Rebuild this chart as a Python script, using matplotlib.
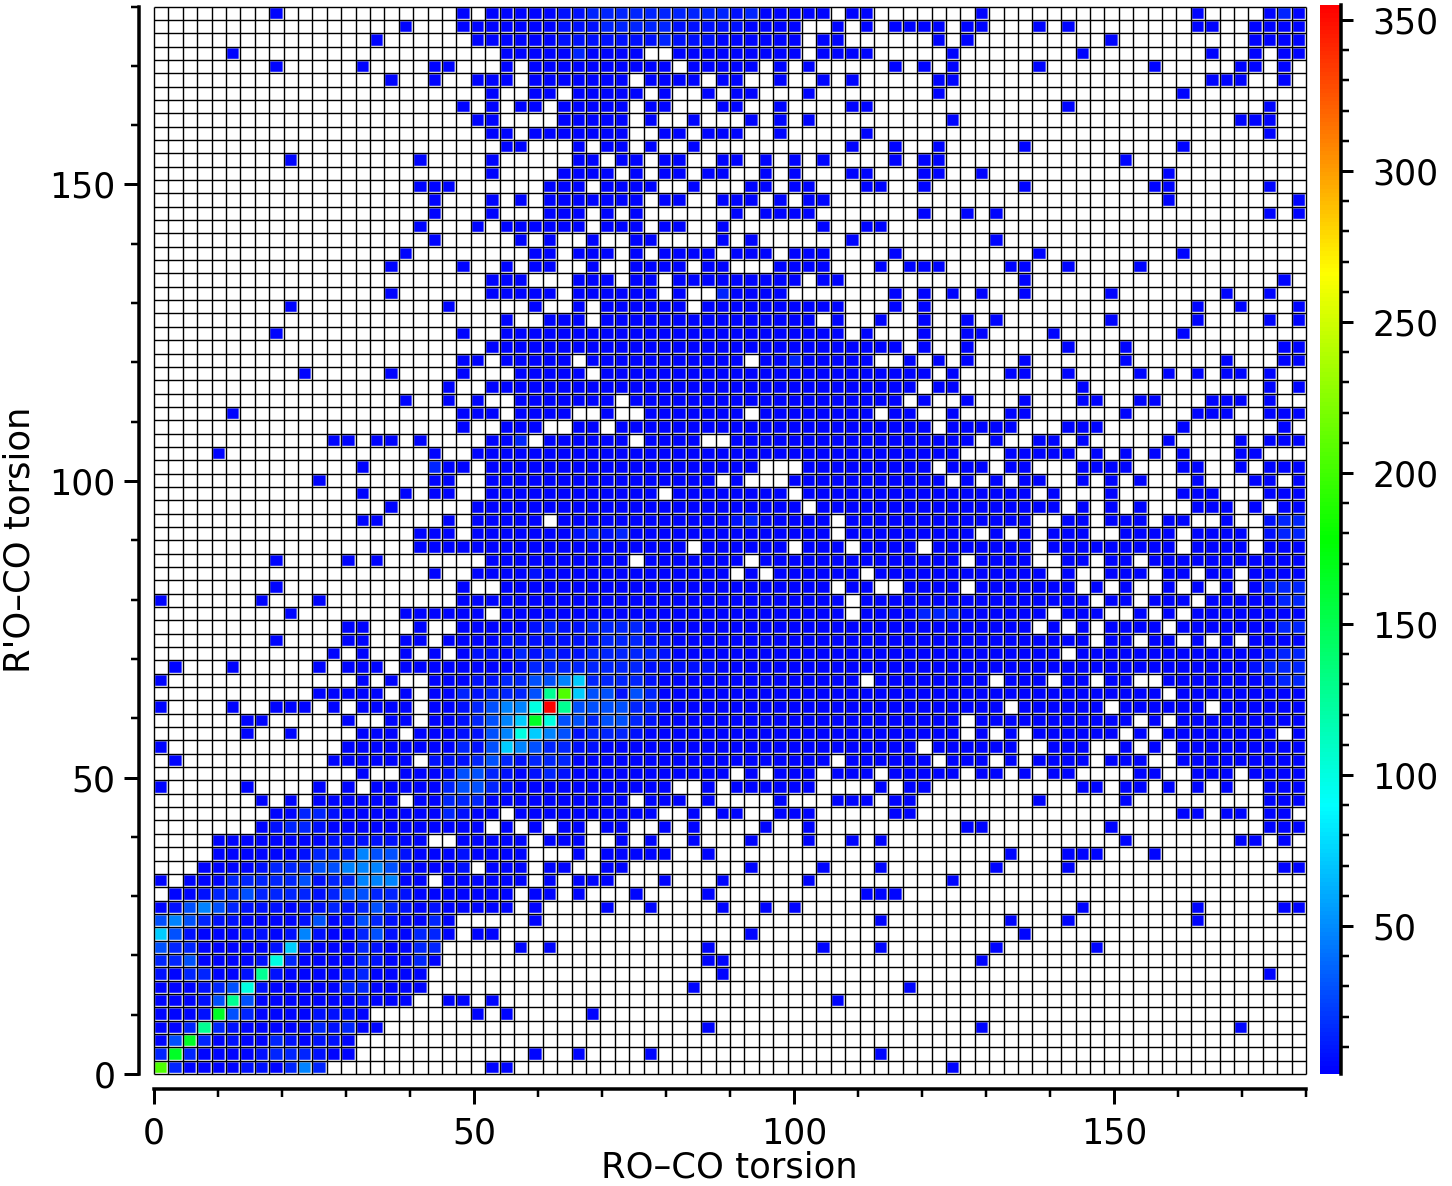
#!/usr/bin/env python3
"""2D histogram of the RO-CO and R'O-CO torsion angles."""
import numpy as np
import matplotlib
matplotlib.use('Agg')
import matplotlib.pyplot as plt
from matplotlib.colors import LinearSegmentedColormap, Normalize
from matplotlib.ticker import MultipleLocator

# ── Data ──────────────────────────────────────────────────────────────────────
N_BINS = 80
ANGLE_MAX = 180
X_LABEL = 'RO–CO torsion'
Y_LABEL = "R'O–CO torsion"
AXIS_TICKS = [0, 50, 100, 150]
CBAR_TICKS = [50, 100, 150, 200, 250, 300, 350]
CBAR_MIN, CBAR_MAX = 1, 355

# filled bins per row, top row first, as column numbers and ranges
FILLED = [
    '8 21 23-46 48 49 57 72 77-79',
    '17 21-44 47 49 51-54 56 57 61 63 72 73 76-79',
    '15 22-44 46 47 54 56 66 76-79',
    '5 24-33 36-44 46-49 55 64 73 76 78 79',
    '8 14 19 20 24 26-35 37-41 43 45 51 53 55 61 69 75 76 78',
    '16 19 22-24 26-32 34-37 39 40 43 46 48 54 55 73-75 78',
    '23 26 27 29-33 35 38 40 41 45 54 71',
    '21 23 25 26 28-32 34 35 39 40 43 48 49 63 77',
    '22 23 28-32 34 37 41 43 45 55 75-77',
    '23 24 26-32 35 36 38-40 43 49 77',
    '24 25 29 31 32 34 37 48 51 54 60 71',
    '9 18 23 29 30 32 33 35 36 39 40 42 44 46 51 53 54 67',
    '23 28-31 33 35 36 38 39 42 44 48 49 53 54 57 70',
    '18-20 27-29 31-34 37 41 42 44 45 49 50 53 60 69 70 77',
    '19 23 25 27-33 35 36 39-41 43 45 46 70 79',
    '19 23 27-29 31 33 40 42-45 53 56 58 77 79',
    '18 22 24-29 31-33 35 36 39 46 49 50',
    '19 25 27 30 33 34 39 41 48 58',
    '17 26 27 29-31 33 35-38 40-42 44-46 51 61 71',
    '16 21 24 26 27 30 33-36 38 39 43-46 50 52-54 59 60 63 68',
    '23-25 29-31 33 34 36-44 46 47 60 78',
    '16 23-27 29-34 36 39-43 51 53 55 57 60 66 74 77',
    '9 20 26 29 31-36 38-47 51 53 72 75 79',
    '24 27-29 31-45 47 50 53 56 58 66 72 77 79',
    '8 21 24-47 49 53 56 57 62 71',
    '23-51 53 56 63 67 78 79',
    '21 22 24-28 30-40 42-49 52 54 56 60 67 74 78 79',
    '10 16 21 25-29 31-53 55 59 60 63 68 70 72 74 75 77',
    '20 23-52 54 55 64 77 79',
    '17 20 22 25-31 33-51 53 56 60 64 65 68 69 73-75 77',
    '5 21-23 25-28 31 34-40 42-49 51 52 55 59 60 67 72-74 77-79',
    '21 24-26 29 30 32-53 55-59 63-65 71 78',
    '12 13 15 16 18 23-25 27-32 34-37 40-56 58 61 62 64 70 75 77-79',
    '4 19 22-55 59-63 65 67 69 71 75 76',
    '14 19-21 23-41 45-53 55-57 59 60 64-67 71 72 75 77-79',
    '11 19 20 23-38 40 44-54 56 58 60 61 64 66 68 72 76 77 79',
    '14 17 19 20 23-34 36-43 45-60 62 66 71-73 77-79',
    '16 22-44 46-62 64 66 68 72-74 76 78 79',
    '14 15 20 22-26 28-46 48-60 63 64 66-68 70 71 74 77-79',
    '18-20 22-46 48-56 58 60 62-64 67-70 72-75 77-79',
    '18-36 38-43 45-47 49-52 54-60 62-70 72-75 77-79',
    '8 13 15 23-32 34-40 42-55 57-60 63 64 66 67 69-79',
    '19 22-39 41 43-48 50-61 63 66-68 70 71 73 74 76-79',
    '8 21 24-46 48 49 52-55 57-63 65 67 70 72 74 76-79',
    '0 7 11 21-47 49-64 66 67 69-71 73-79',
    '9 17-22 24-47 49-61 63-65 68 70 72-79',
    '13 14 18 21-60 62 64 66-69 71-79',
    '8 13 14 17 18 20-64 66 67 69 70 72 74 76-79',
    '12 14 17 19 21-62 64-79',
    '1 5 11 13-15 17-79',
    '0 14 16 19-48 50-57 59-61 63 64 66 67 70-79',
    '11-15 17 19-69 71-79',
    '0 5 8-10 12 14-17 19-58 60-65 67-72 74-79',
    '6 7 13 16 17 19-55 57-67 69 71-79',
    '6 9 14-16 18-55 57 59 61-66 68 70-77 79',
    '0 13-52 54-59 62-64 67 69 71-79',
    '1 12-17 19-46 48-53 55-57 59 61-64 66-68 71-79',
    '14 17-39 41 43-45 47-49 51-55 57 58 60 62 63 68 69 72-74 76-79',
    '0 6 11 13 15-35 38 40-45 50 52 53 64 65 67 68 70 72 74 77-79',
    '7 9 11-16 18-32 34-36 38 43 47-49 51 52 61 67 77-79',
    '8-23 25-34 37 39 40 43-45 51 52 71 72 74 75 77 78',
    '7-22 24 26 28 29 31 32 35 37 42 45 56 57 66 77-79',
    '4-18 21-25 27-29 32 34 37 41 45 48 50 67 75 76 78',
    '4-25 29 31-35 38 59 63-65 69',
    '3-21 23-25 27 28 31 32 41 46 50 58 63 78 79',
    '0 2-18 20-25 27 29-31 35 39 45 55',
    '1-24 26 27 29 33 38 49-51',
    '0-24 26 31 34 39 42 44 64 72 78 79',
    '0-20 26 50 59 63 72',
    '0-20 22 23 41 60',
    '0-19 25 27 38 46 50 58 65',
    '0-19 38 39 57',
    '0-18 39 77',
    '0-18 37 52',
    '0-17 20 21 23 47',
    '0-14 22 24 30',
    '0-15 38 57 75',
    '0-13',
    '0-13 26 29 34 50',
    '0-11 23 24 55',
]

SHADE_COUNTS = {'1': 3, '2': 7, '3': 14, '4': 30, '5': 48, '6': 72,
                '7': 100, '8': 128, '9': 165, 'A': 205, 'R': 354}

# bins brighter than plain blue: row, first column, shade codes
SHADED = [
    (0, 28, '22333333333323'), (1, 28, '2223333322222'),
    (2, 28, '22222223222'), (3, 29, '3'), (0, 78, '3'),
    (21, 39, '3'), (26, 44, '3'), (32, 25, '3'), (34, 19, '3'),
    (38, 40, '23'), (39, 29, '2323'), (38, 77, '233'), (39, 77, '233'),
    (42, 26, '2'), (43, 76, '1333'), (44, 78, '33'), (45, 53, '333'),
    (46, 78, '33'), (49, 76, '2333'), (48, 77, '233'), (50, 77, '233'),
    (46, 26, '232233332'), (47, 24, '222222233322'),
    (48, 21, '122132322333332'), (49, 25, '23333333322222'),
    (50, 21, '12233445633332'), (51, 21, '3233348A644243'),
    (52, 21, '234557R8444433'), (53, 21, '23456974434432'),
    (54, 21, '2245765423332'), (55, 21, '3246543322'),
    (56, 19, '2223432333'), (57, 20, '244321232'),
    (58, 20, '34432'), (59, 20, '333'),
    (60, 8, '11332111111132'), (61, 7, '1233211'), (62, 12, '22222'),
    (63, 10, '233354421112'), (64, 7, '233344555421112'),
    (65, 5, '3333342335551'), (66, 3, '233433332344332'),
    (67, 0, '12454322212232343212'), (68, 0, '454322111124124321131'),
    (69, 0, '642111221252113421331'), (70, 0, '43311111262111321133'),
    (71, 0, '33411112731111321131'), (72, 0, '2133112821111231111'),
    (73, 0, '111234721111133'), (74, 0, '111248411111112'),
    (75, 0, '11129431111222'), (76, 0, '11383211111323'),
    (77, 0, '1493121132122'), (78, 0, '393111123332'),
    (79, 0, 'A31111221353'),
]

# ── Style constants ───────────────────────────────────────────────────────────
W, H = 1452, 1186
DPI = 100
PX = 72 / DPI
FONT = 25
LABEL_FONT = 25.5
CMAP = LinearSegmentedColormap.from_list(
    'rainbow5', ['#0000ff', '#00ffff', '#00ff00', '#ffff00', '#ff0000'])


def expand(spec):
    cols = []
    for part in spec.split():
        if '-' in part:
            a, b = part.split('-')
            cols.extend(range(int(a), int(b) + 1))
        else:
            cols.append(int(part))
    return cols


def style_axis(ax, side):
    ax.spines[side].set_linewidth(3.5 * PX)
    ax.tick_params(which='major', length=15 * PX, width=3 * PX, labelsize=FONT)
    ax.tick_params(which='minor', length=8 * PX, width=2.5 * PX)


# ── Build the grid ────────────────────────────────────────────────────────────
counts = np.zeros((N_BINS, N_BINS))
for r, spec in enumerate(FILLED):
    counts[N_BINS - 1 - r, expand(spec)] = SHADE_COUNTS['1']
for r, start, codes in SHADED:
    for k, code in enumerate(codes):
        if counts[N_BINS - 1 - r, start + k] > 0:
            counts[N_BINS - 1 - r, start + k] = SHADE_COUNTS[code]
edges = np.linspace(0, ANGLE_MAX, N_BINS + 1)

# ── Chart ─────────────────────────────────────────────────────────────────────
fig = plt.figure(figsize=(W / DPI, H / DPI), dpi=DPI, facecolor='white')
ax = fig.add_axes([154 / W, 1 - 1074 / H, 1152 / W, 1067.4 / H])
norm = Normalize(CBAR_MIN, CBAR_MAX)
# antialiased edges keep the white margin thinner than a whole pixel
mesh = ax.pcolormesh(edges, edges, np.ma.masked_equal(counts, 0), cmap=CMAP,
                     norm=norm, edgecolors='white', linewidth=2.4 * PX,
                     antialiased=True)
ax.vlines(edges, 0, ANGLE_MAX, color='black', linewidth=1.4 * PX, zorder=3,
          clip_on=False)
ax.hlines(edges, 0, ANGLE_MAX, color='black', linewidth=1.4 * PX, zorder=3,
          clip_on=False)
ax.set_xlim(0, ANGLE_MAX)
ax.set_ylim(0, ANGLE_MAX)

for side in ('top', 'right'):
    ax.spines[side].set_visible(False)
for side in ('left', 'bottom'):
    ax.spines[side].set_position(('outward', 15 * PX))
    style_axis(ax, side)
ax.set_xticks(AXIS_TICKS)
ax.set_yticks(AXIS_TICKS)
ax.xaxis.set_minor_locator(MultipleLocator(10))
ax.yaxis.set_minor_locator(MultipleLocator(10))
ax.tick_params(axis='x', pad=9)
ax.tick_params(axis='y', pad=6)

fig.text(729 / W, 1 - 1168 / H, X_LABEL, fontsize=LABEL_FONT, ha='center', va='center')
fig.text(20 / W, 1 - 540 / H, Y_LABEL, fontsize=LABEL_FONT, ha='center', va='center',
         rotation=90)

# ── Colour bar ────────────────────────────────────────────────────────────────
cax = fig.add_axes([1320 / W, 1 - 1074 / H, 21 / W, 1069 / H])
cbar = fig.colorbar(mesh, cax=cax)
cbar.outline.set_visible(False)
cbar.set_ticks(CBAR_TICKS)
cax.yaxis.set_minor_locator(MultipleLocator(10))
cax.spines['right'].set_visible(True)
style_axis(cax, 'right')
cax.tick_params(which='major', length=12 * PX, pad=14)
cax.tick_params(which='minor', length=8 * PX)

fig.savefig('out.png', dpi=DPI, facecolor='white')
plt.close(fig)
